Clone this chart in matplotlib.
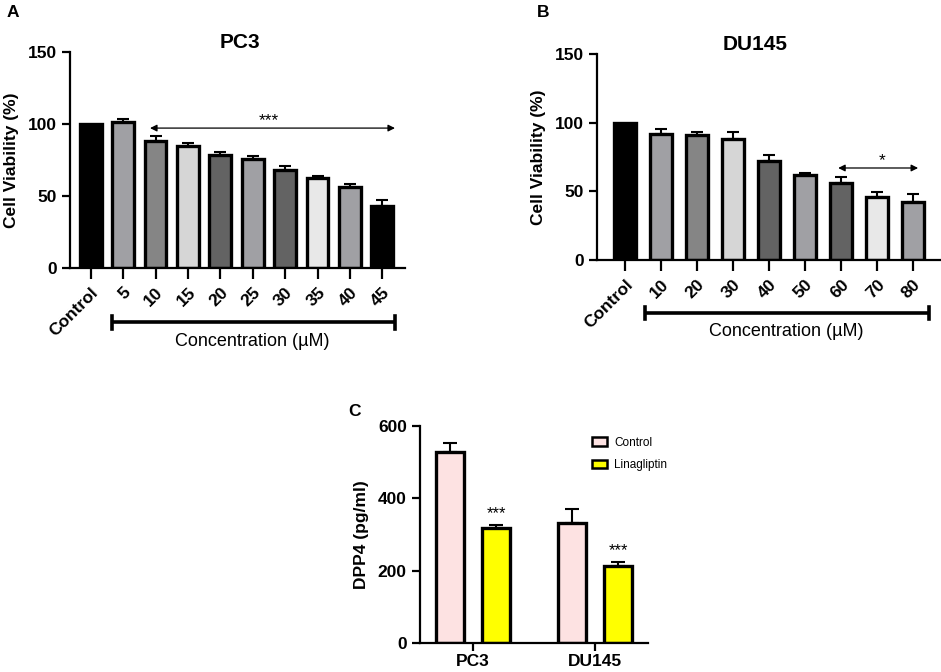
import matplotlib
matplotlib.use("Agg")
import matplotlib.pyplot as plt
import matplotlib.transforms as mtransforms
from matplotlib.patches import Patch

plt.rcParams['font.family'] = ['Liberation Sans', 'DejaVu Sans']

# ---------------- data ----------------
pc3_labels = ["Control", "5", "10", "15", "20", "25", "30", "35", "40", "45"]
pc3_values = [100, 101.4, 88.0, 84.7, 78.2, 75.5, 67.8, 62.3, 56.5, 43.3]
pc3_errors = [0, 1.8, 3.7, 1.9, 2.6, 2.3, 3.2, 1.8, 1.8, 3.7]

du_labels = ["Control", "10", "20", "30", "40", "50", "60", "70", "80"]
du_values = [100, 91.8, 91.3, 88.2, 72.2, 61.8, 56.0, 45.8, 42.4]
du_errors = [0, 3.9, 2.0, 5.3, 4.6, 1.2, 4.8, 3.9, 5.3]

dpp_groups = ["PC3", "DU145"]
dpp_control = [527, 333]
dpp_control_err = [25, 37]
dpp_lina = [317.5, 212.6]
dpp_lina_err = [8.5, 11]

g1, g2, g3, g4, g5 = "#000000", "#a0a0a4", "#858585", "#d6d6d6", "#636363"
g6 = "#e8e8e8"
pc3_colors = [g1, g2, g3, g4, g5, g2, g5, g6, g2, g1]
du_colors = [g1, g2, g3, g4, g5, g2, g5, g6, g2]

fig = plt.figure(figsize=(9.41, 6.72), dpi=100)

LW = 1.6
TICKFS = 12.5


def style_axes(ax):
    for s in ["top", "right"]:
        ax.spines[s].set_visible(False)
    for s in ["left", "bottom"]:
        ax.spines[s].set_linewidth(LW)
    ax.tick_params(axis="both", width=LW, length=6, labelsize=TICKFS)
    for lab in ax.get_yticklabels():
        lab.set_fontweight("bold")


def viability(ax, labels, values, errors, colors, xlim, title, title_x,
              br, txt_x, arrow, star_txt, star_xy, width):
    x = list(range(len(labels)))
    ax.bar(x, values, width=width, color=colors, edgecolor="black",
           linewidth=2.4, zorder=2)
    ax.errorbar(x[1:], values[1:], yerr=[[0] * (len(x) - 1), errors[1:]],
                fmt="none", ecolor="black", elinewidth=1.5, capsize=4,
                capthick=1.5, zorder=1)
    ax.set_xlim(*xlim)
    ax.set_ylim(0, 150)
    ax.set_yticks([0, 50, 100, 150])
    ax.set_xticks(x)
    ax.set_xticklabels(labels, rotation=45, ha="right",
                       rotation_mode="anchor", fontweight="bold",
                       fontsize=TICKFS)
    style_axes(ax)
    ax.tick_params(axis="x", length=8, pad=4)
    ax.set_ylabel("Cell Viability (%)", fontsize=12.5, fontweight="bold",
                  labelpad=6)
    ax.set_title(title, fontsize=15, fontweight="bold", x=title_x, pad=3)
    trans = mtransforms.blended_transform_factory(ax.transData, ax.transAxes)
    ax.plot([br[0], br[1]], [br[2], br[2]], color="black", lw=2.6,
            transform=trans, clip_on=False, solid_capstyle="butt")
    for xx in br[:2]:
        ax.plot([xx, xx], [br[2] - 0.03, br[2] + 0.03], color="black",
                lw=2.6, transform=trans, clip_on=False)
    ax.text(txt_x, br[2] - 0.09, "Concentration (µM)", transform=trans,
            ha="center", va="center", fontsize=13)
    ax.annotate("", xy=(arrow[1], arrow[2]), xytext=(arrow[0], arrow[2]),
                arrowprops=dict(arrowstyle="<|-|>", color="black", lw=0.9,
                                mutation_scale=10, shrinkA=0, shrinkB=0))
    ax.text(star_xy[0], star_xy[1], star_txt, ha="center", va="center",
            fontsize=12.5)


axA = fig.add_axes([0.0744, 0.601, 0.356, 0.3216])
viability(axA, pc3_labels, pc3_values, pc3_errors, pc3_colors,
          (-0.64, 9.70), "PC3", 0.507, (0.66, 9.4, -0.25), 5.0,
          (1.83, 9.39, 97.2), "***", (5.5, 102.5), 0.67)

axB = fig.add_axes([0.6344, 0.6131, 0.3646, 0.3065])
viability(axB, du_labels, du_values, du_errors, du_colors,
          (-0.78, 8.75), "DU145", 0.46, (0.56, 8.44, -0.257), 4.47,
          (5.92, 8.14, 67.0), "*", (7.14, 72.5), 0.62)

# ---------------- panel C ----------------
axC = fig.add_axes([0.4463, 0.0432, 0.2423, 0.3228])
xs = [0, 1]
off = 0.19
w = 0.23
xc = [v - off for v in xs]
xl = [v + off for v in xs]
axC.bar(xc, dpp_control, width=w, color="#fde2e2", edgecolor="black",
        linewidth=2.4, zorder=2, label="Control")
axC.bar(xl, dpp_lina, width=w, color="#ffff00", edgecolor="black",
        linewidth=2.4, zorder=2, label="Linagliptin")
axC.errorbar(xc, dpp_control, yerr=[[0, 0], dpp_control_err], fmt="none",
             ecolor="black", elinewidth=1.5, capsize=5, capthick=1.5, zorder=1)
axC.errorbar(xl, dpp_lina, yerr=[[0, 0], dpp_lina_err], fmt="none",
             ecolor="black", elinewidth=1.5, capsize=5, capthick=1.5, zorder=1)
for xx, v, e in zip(xl, dpp_lina, dpp_lina_err):
    axC.text(xx, v + e + 12, "***", ha="center", va="bottom", fontsize=12)
axC.set_xlim(-0.434, 1.434)
axC.set_ylim(0, 600)
axC.set_yticks([0, 200, 400, 600])
axC.set_xticks(xs)
axC.set_xticklabels(dpp_groups, fontweight="bold", fontsize=TICKFS)
style_axes(axC)
axC.tick_params(axis="x", length=6, pad=2)
axC.set_ylabel("DPP4 (pg/ml)", fontsize=12.5, fontweight="bold", labelpad=6)
handles = [Patch(facecolor="#fde2e2", edgecolor="black", linewidth=1.8,
                 label="Control"),
           Patch(facecolor="#ffff00", edgecolor="black", linewidth=1.8,
                 label="Linagliptin")]
axC.legend(handles=handles, loc="upper right", bbox_to_anchor=(1.13, 1.0),
           frameon=False, fontsize=8.5, handlelength=1.3, handleheight=0.7,
           labelspacing=0.9, handletextpad=0.6)

# panel letters
fig.text(0.007, 0.993, "A", fontsize=12.5, fontweight="bold", va="top")
fig.text(0.571, 0.993, "B", fontsize=12.5, fontweight="bold", va="top")
fig.text(0.370, 0.399, "C", fontsize=12.5, fontweight="bold", va="top")

fig.savefig("out.png", dpi=100)
